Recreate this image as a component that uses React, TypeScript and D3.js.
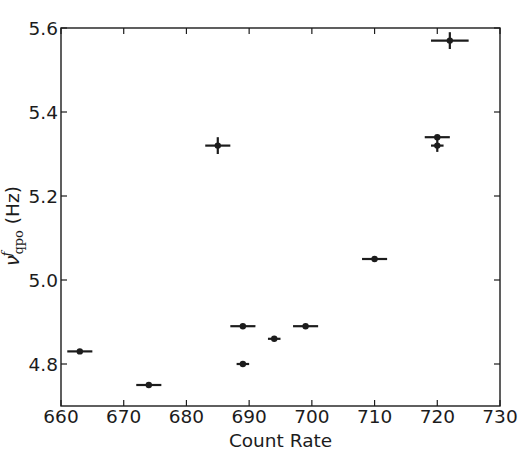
import React from "react";
import * as d3 from "d3";

// count rate, x error, frequency, y error
const countRate = [663, 674, 685, 689, 689, 694, 699, 710, 720, 720, 722];
const countRateErr = [2, 2, 2, 2, 1, 1, 2, 2, 2, 1, 3];
const qpoFreq = [4.83, 4.75, 5.32, 4.89, 4.8, 4.86, 4.89, 5.05, 5.34, 5.32, 5.57];
const qpoFreqErr = [0.005, 0.005, 0.02, 0.005, 0.005, 0.005, 0.005, 0.005, 0.005, 0.015, 0.02];

const xTicks = [660, 670, 680, 690, 700, 710, 720, 730];
const yTicks = [4.8, 5.0, 5.2, 5.4, 5.6];

const width = 520;
const height = 454;
const margin = { top: 28, right: 20, bottom: 48, left: 61 };
const ink = "#1c1c1c";
const font = "'DejaVu Sans', sans-serif";
const fs = 18.5;

const App: React.FC = () => {
  const innerW = width - margin.left - margin.right;
  const innerH = height - margin.top - margin.bottom;

  const x = d3.scaleLinear().domain([660, 730]).range([0, innerW]);
  const y = d3.scaleLinear().domain([4.7, 5.6]).range([innerH, 0]);
  const tickLen = 6;

  return (
    <svg
      width={width}
      height={height}
      style={{ position: "absolute", left: 0, top: 0, background: "#fff" }}
    >
      <g transform={`translate(${margin.left},${margin.top})`}>
        {/* error bars and points */}
        {countRate.map((c, i) => (
          <g key={i} stroke={ink} strokeWidth={2.2}>
            <line
              x1={x(c - countRateErr[i])}
              x2={x(c + countRateErr[i])}
              y1={y(qpoFreq[i])}
              y2={y(qpoFreq[i])}
            />
            <line
              x1={x(c)}
              x2={x(c)}
              y1={y(qpoFreq[i] - qpoFreqErr[i])}
              y2={y(qpoFreq[i] + qpoFreqErr[i])}
            />
            <circle cx={x(c)} cy={y(qpoFreq[i])} r={3.2} fill={ink} stroke="none" />
          </g>
        ))}

        {/* frame */}
        <rect
          x={0}
          y={0}
          width={innerW}
          height={innerH}
          fill="none"
          stroke={ink}
          strokeWidth={1.4}
        />

        {/* x ticks, bottom and top, inward */}
        {xTicks.map((t) => (
          <g key={t}>
            <line x1={x(t)} x2={x(t)} y1={innerH} y2={innerH - tickLen} stroke={ink} strokeWidth={1.2} />
            <line x1={x(t)} x2={x(t)} y1={0} y2={tickLen} stroke={ink} strokeWidth={1.2} />
            <text
              x={x(t)}
              y={innerH + 17}
              textAnchor="middle"
              fontFamily={font}
              fontSize={fs}
              fill={ink}
            >
              {t}
            </text>
          </g>
        ))}

        {/* y ticks, left and right, inward */}
        {yTicks.map((t) => (
          <g key={t}>
            <line x1={0} x2={tickLen} y1={y(t)} y2={y(t)} stroke={ink} strokeWidth={1.2} />
            <line x1={innerW} x2={innerW - tickLen} y1={y(t)} y2={y(t)} stroke={ink} strokeWidth={1.2} />
            <text
              x={-3}
              y={y(t)}
              dy="0.36em"
              textAnchor="end"
              fontFamily={font}
              fontSize={fs}
              fill={ink}
            >
              {d3.format(".1f")(t)}
            </text>
          </g>
        ))}

        {/* axis labels */}
        <text
          x={innerW / 2}
          y={innerH + 40.7}
          textAnchor="middle"
          fontFamily={font}
          fontSize={fs}
          fill={ink}
        >
          Count Rate
        </text>
      </g>
      <text
        transform="translate(19,266) rotate(-90)"
        textAnchor="start"
        fontFamily={font}
        fontSize={fs}
        fill={ink}
      >
        <tspan fontStyle="italic" fontSize={19}>ν</tspan>
        <tspan fontStyle="italic" fontFamily="'DejaVu Serif', serif" fontSize={13} dx={-1} dy={-8}>f</tspan>
        <tspan fontFamily="'DejaVu Serif', serif" fontSize={13} dx={-3} dy={12}>qpo</tspan>
        <tspan dy={-4}> (Hz)</tspan>
      </text>
    </svg>
  );
};

export default App;
